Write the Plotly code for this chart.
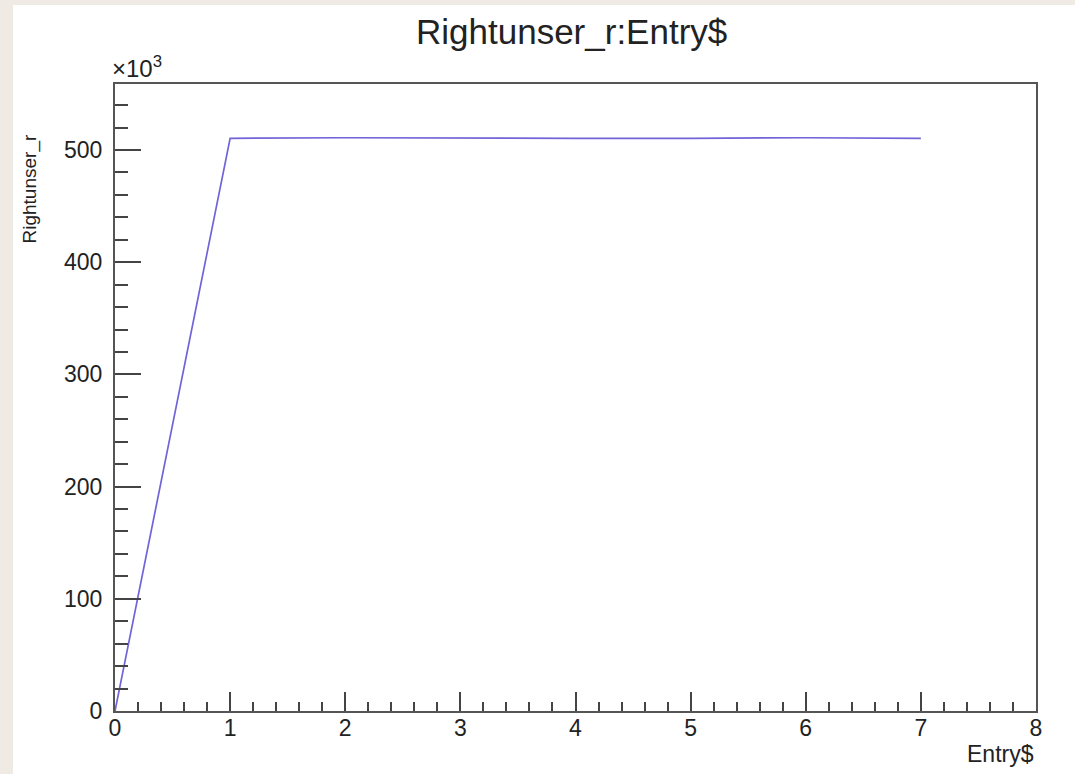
import plotly.graph_objects as go

# Data
entry = [0, 1, 2, 3, 4, 5, 6, 7]
rightunser_r = [0, 510400, 510900, 510400, 510400, 510400, 510900, 510400]

x_ticks = [0, 1, 2, 3, 4, 5, 6, 7, 8]
x_tick_labels = ["0", "1", "2", "3", "4", "5", "6", "7", "8"]
y_ticks = [0, 100000, 200000, 300000, 400000, 500000]
y_tick_labels = ["0", "100", "200", "300", "400", "500"]

title_text = "Rightunser_r:Entry$"
x_title = "Entry$"
y_title = "Rightunser_r"

W, H = 1075, 774
L, R, T, B = 115, 39, 84, 63
pw, ph = W - L - R, H - T - B

def px_x(p):
    return (p - L) / pw

def px_y(p):
    return (H - B - p) / ph

font_family = "Liberation Sans, Arial, Helvetica, sans-serif"

fig = go.Figure()
fig.add_trace(go.Scatter(
    x=entry, y=rightunser_r, mode="lines",
    line=dict(color="#7064d8", width=1.7),
    showlegend=False, hoverinfo="skip",
))

axis_common = dict(
    showgrid=False, zeroline=False, showline=True, linecolor="#555555",
    linewidth=2, mirror=True, ticks="inside", tickcolor="#444444",
    tickwidth=1.5, tickfont=dict(family=font_family, size=23, color="#222222"),
)

fig.update_xaxes(
    range=[0, 8], tickvals=x_ticks, ticktext=x_tick_labels, ticklen=19,
    minor=dict(ticks="inside", dtick=0.2, ticklen=9, tickcolor="#444444", tickwidth=1.5),
    ticklabelstandoff=-5, **axis_common,
)
fig.update_yaxes(
    range=[0, 558800], tickvals=y_ticks, ticktext=y_tick_labels, ticklen=26,
    minor=dict(ticks="inside", dtick=20000, ticklen=13, tickcolor="#444444", tickwidth=1.5),
    ticklabelstandoff=6, **axis_common,
)

fig.update_layout(
    width=W, height=H,
    margin=dict(l=L, r=R, t=T, b=B, pad=0),
    paper_bgcolor="#efebe4", plot_bgcolor="white",
    shapes=[dict(
        type="rect", xref="paper", yref="paper", layer="below",
        x0=px_x(13), x1=px_x(W + 2), y0=px_y(H + 2), y1=px_y(5),
        fillcolor="white", line=dict(width=0),
    )],
    annotations=[
        dict(text=title_text, xref="paper", yref="paper", x=px_x(571), y=px_y(31),
             xanchor="center", yanchor="middle", showarrow=False,
             font=dict(family=font_family, size=35, color="#222222")),
        dict(text=x_title, xref="paper", yref="paper", x=px_x(1036), y=px_y(754),
             xanchor="right", yanchor="middle", showarrow=False,
             font=dict(family=font_family, size=23, color="#222222")),
        dict(text=y_title, xref="paper", yref="paper", x=px_x(29), y=px_y(133),
             xanchor="center", yanchor="top", textangle=-90, showarrow=False,
             font=dict(family=font_family, size=19, color="#222222")),
        dict(text="×10<sup>3</sup>", xref="paper", yref="paper", x=px_x(110), y=px_y(67),
             xanchor="left", yanchor="middle", showarrow=False,
             font=dict(family=font_family, size=24, color="#222222")),
    ],
)

fig.write_html("out.html")
